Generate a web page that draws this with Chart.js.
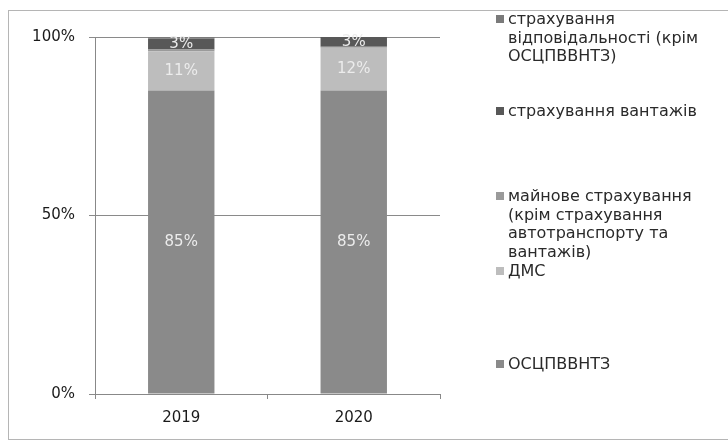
<!DOCTYPE html>
<html>
<head>
<meta charset="utf-8">
<script src="https://cdn.jsdelivr.net/npm/chart.js@4"></script>
<style>
    body { margin: 0; background: #fff; }
    #wrap { position: relative; width: 728px; height: 448px; }
    #frame { position: absolute; left: 8px; top: 10px; width: 730px; height: 430px; border: 1px solid #b5b5b5; box-sizing: border-box; }
    #chart { position: absolute; left: 0; top: 0; }
    #legend { position: absolute; left: 0; top: 0; font-family: "DejaVu Sans", sans-serif; font-size: 16px; line-height: 18.7px; color: #2a2a2a; }
    .leg-item { position: absolute; left: 496px; width: 210px; padding-left: 12px; }
    .leg-box { position: absolute; left: 0; top: 5px; width: 8px; height: 8px; }
</style>
</head>
<body>
<div id="wrap">
    <div id="frame"></div>
    <canvas id="chart" width="728" height="448"></canvas>
    <div id="legend"></div>
</div>
<script>
const years = ['2019', '2020'];
const yTicks = [0, 50, 100];

// bottom to top of the stack
const seriesNames = [
    'ОСЦПВВНТЗ',
    'ДМС',
    'майнове страхування (крім страхування автотранспорту та вантажів)',
    'страхування вантажів',
    'страхування відповідальності (крім ОСЦПВВНТЗ)'
];
const osc = [85, 85];
const dms = [11, 12];
const property = [0.5, 0.3];
const cargo = [3, 2.7];
const liability = [0.5, 0];

const seriesValues = [osc, dms, property, cargo, liability];
const seriesColors = ['#8a8a8a', '#bdbdbd', '#9a9a9a', '#585858', '#7a7a7a'];
const legendTops = [10, 102, 187, 262, 355];

const ctx = document.getElementById('chart').getContext('2d');

// percent labels inside the segments
const segmentLabels = {
    id: 'segmentLabels',
    afterDatasetsDraw(chart) {
        const c = chart.ctx;
        c.save();
        c.font = '15px "DejaVu Sans", sans-serif';
        c.fillStyle = '#ececec';
        c.textAlign = 'center';
        c.textBaseline = 'middle';
        chart.data.datasets.forEach((ds, i) => {
            const meta = chart.getDatasetMeta(i);
            meta.data.forEach((bar, j) => {
                const v = ds.data[j];
                if (v < 2) return;
                const mid = (bar.y + bar.base) / 2;
                c.fillText(Math.round(v) + '%', bar.x, mid);
            });
        });
        c.restore();
    }
};

const chart = new Chart(ctx, {
    type: 'bar',
    data: {
        labels: years,
        datasets: seriesNames.map((name, i) => ({
            label: name,
            data: seriesValues[i],
            backgroundColor: seriesColors[i],
            borderWidth: 0,
            categoryPercentage: 1,
            barPercentage: 0.385
        }))
    },
    options: {
        responsive: false,
        animation: false,
        layout: { padding: { top: 37, right: 288, bottom: 0, left: 0 } },
        plugins: {
            legend: { display: false },
            tooltip: { enabled: false }
        },
        scales: {
            x: {
                stacked: true,
                afterFit(scale) { scale.height = 54; },
                grid: {
                    offset: true,
                    drawOnChartArea: false,
                    tickLength: 5,
                    color: '#888'
                },
                border: { color: '#888' },
                ticks: {
                    color: '#1a1a1a',
                    padding: 10,
                    font: { family: 'DejaVu Sans', size: 15 }
                }
            },
            y: {
                stacked: true,
                min: 0,
                max: 100,
                afterFit(scale) { scale.width = 95; },
                afterBuildTicks(scale) { scale.ticks = yTicks.map(v => ({ value: v })); },
                grid: { color: '#8a8a8a', tickLength: 6 },
                border: { color: '#888' },
                ticks: {
                    color: '#1a1a1a',
                    padding: 14,
                    font: { family: 'DejaVu Sans', size: 15 },
                    callback: v => v + '%'
                }
            }
        }
    },
    plugins: [segmentLabels]
});

// legend, top series first like the original
const legendEl = document.getElementById('legend');
chart.data.datasets.slice().reverse().forEach((ds, k) => {
    const item = document.createElement('div');
    item.className = 'leg-item';
    item.style.top = legendTops[k] + 'px';
    item.innerHTML = `<span class="leg-box" style="background:${ds.backgroundColor}"></span>${ds.label}`;
    legendEl.appendChild(item);
});
</script>
</body>
</html>
